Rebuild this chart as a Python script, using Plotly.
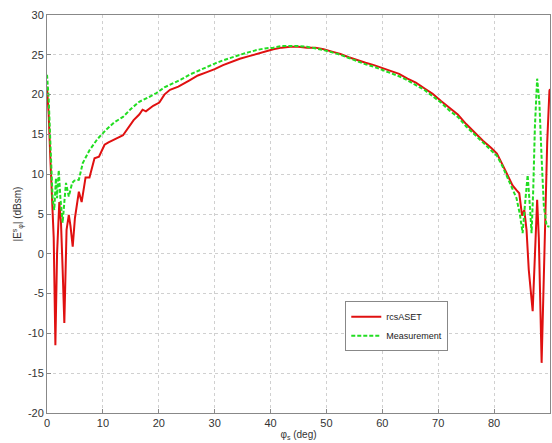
import plotly.graph_objects as go

# rcsASET (red, solid)
rcs_x = [0.0, 0.3, 0.6, 0.9, 1.2, 1.5, 1.8, 2.2, 2.5, 2.8, 3.1, 3.5, 3.9, 4.2, 4.6, 5.0, 5.7, 6.2, 6.9, 7.6,
         8.5, 9.3, 10.3, 11.0, 12.0, 13.0, 13.6, 14.5, 15.5, 16.5, 17.1, 17.7, 19.0, 20.1, 21.0, 22.0, 23.5,
         25.5, 27.0, 28.5, 30.0, 31.5, 33.0, 34.5, 36.0, 37.5, 39.0, 40.5, 42.0, 43.5, 45.0, 46.5, 48.0,
         49.5, 51.0, 52.5, 54.0, 55.5, 57.0, 58.5, 60.0, 61.5, 63.0, 64.5, 66.0, 67.5, 69.0, 70.5, 72.0,
         73.5, 75.0, 76.5, 78.0, 79.5, 80.5, 81.5, 82.2, 83.3, 84.0, 84.5, 85.0, 85.4, 85.8, 86.2, 86.9,
         87.3, 87.7, 88.0, 88.5, 89.0, 89.5, 89.9, 90.0]
rcs_y = [21.0, 17.5, 12.0, 6.0, 2.0, -11.5, 0.0, 6.5, 4.0, -2.0, -8.7, 3.0, 4.9, 3.5, 0.9, 4.5, 7.8, 6.5, 9.6, 9.6,
         12.0, 12.2, 13.7, 14.0, 14.4, 14.7, 14.9, 15.8, 16.8, 17.5, 18.1, 17.9, 18.6, 19.0, 20.0, 20.6, 21.0,
         21.8, 22.4, 22.8, 23.2, 23.7, 24.1, 24.5, 24.8, 25.1, 25.4, 25.7, 25.9, 26.0, 26.0, 25.9, 25.9,
         25.7, 25.4, 25.1, 24.7, 24.3, 24.0, 23.7, 23.3, 22.9, 22.6, 22.0, 21.5, 20.8, 20.1, 19.2, 18.3,
         17.5, 16.3, 15.2, 14.2, 13.3, 12.6, 11.2, 10.1, 8.6, 8.0, 7.6, 4.8, 5.5, 3.0, -2.0, -7.2,
         0.0, 6.8, 2.0, -13.7, 0.0, 14.0, 20.5, 20.7]

# Measurement (green, dashed)
meas_x = [0.0, 0.3, 0.6, 1.0, 1.3, 1.6, 1.8, 2.1, 2.4, 2.8, 3.1, 3.4, 3.9, 4.5, 4.9, 5.7, 6.4, 7.0, 7.6, 9.0,
          10.6, 12.0, 13.6, 15.0, 16.5, 18.0, 19.6, 21.0, 22.6, 24.0, 25.5, 27.0, 28.5, 30.0, 31.5, 33.0,
          34.5, 36.0, 37.5, 39.0, 40.5, 42.0, 43.5, 45.0, 46.5, 48.0, 49.5, 51.0, 52.5, 54.0, 55.5, 57.0,
          58.5, 60.0, 61.5, 63.0, 64.5, 66.0, 67.5, 69.0, 70.5, 72.0, 73.5, 75.0, 76.5, 78.0, 79.5, 80.5,
          81.5, 82.2, 83.3, 84.0, 84.6, 85.1, 85.5, 86.0, 86.4, 86.7, 87.0, 87.3, 87.7, 88.1, 88.5, 88.9,
          89.4, 89.9]
meas_y = [22.5, 19.5, 14.0, 7.0, 5.5, 9.5, 7.0, 10.5, 7.0, 3.9, 6.5, 8.9, 7.2, 8.9, 9.2, 9.3, 11.4, 12.3, 13.0, 14.4,
          15.6, 16.5, 17.2, 18.2, 19.1, 19.6, 20.2, 20.9, 21.4, 21.9, 22.5, 23.0, 23.5, 23.9, 24.3, 24.7,
          25.0, 25.3, 25.6, 25.8, 25.9, 26.1, 26.1, 26.1, 26.0, 25.8, 25.6, 25.3, 25.0, 24.6, 24.2, 23.8,
          23.5, 23.1, 22.7, 22.3, 21.8, 21.2, 20.6, 19.8, 19.0, 18.0, 17.2, 16.0, 15.0, 13.9, 13.0, 12.3,
          11.0, 9.9, 8.2, 7.0, 5.0, 2.6, 6.0, 9.9, 6.0, 2.6, 8.0, 16.0, 22.0, 19.0, 12.0, 6.0,
          3.5, 3.4]

x_ticks = [0, 10, 20, 30, 40, 50, 60, 70, 80, 90]
y_ticks = [-20, -15, -10, -5, 0, 5, 10, 15, 20, 25, 30]

fig = go.Figure()
fig.add_trace(go.Scatter(x=rcs_x, y=rcs_y, mode="lines", name="rcsASET",
                         line=dict(color="#e01010", width=2)))
fig.add_trace(go.Scatter(x=meas_x, y=meas_y, mode="lines", name="Measurement",
                         line=dict(color="#22dd22", width=2, dash="4px,2px")))

axis_common = dict(showline=True, linecolor="#888888", linewidth=1, mirror=True,
                   showgrid=True, gridcolor="#d0d0d0", griddash="dot", gridwidth=1,
                   ticks="inside", ticklen=4, tickcolor="#888888", zeroline=False,
                   tickfont=dict(family="Liberation Sans, Arial", size=11, color="#333333"))

fig.update_xaxes(range=[0, 90], tickvals=x_ticks, ticktext=[str(v) for v in x_ticks],
                 title=dict(text="φ<sub>s</sub> (deg)", standoff=2,
                            font=dict(family="Liberation Sans, Arial", size=10, color="#333333")),
                 **axis_common)
fig.update_yaxes(range=[-20, 30], tickvals=y_ticks, ticktext=[str(v) for v in y_ticks],
                 title=dict(text="|E<sup>s</sup><sub>φ</sub>| (dBsm)", standoff=4,
                            font=dict(family="Liberation Sans, Arial", size=10, color="#333333")),
                 **axis_common)

fig.update_layout(
    width=552, height=443,
    margin=dict(l=47, r=2, t=15, b=30),
    paper_bgcolor="white", plot_bgcolor="white",
    showlegend=True,
    legend=dict(x=0.593, y=0.281, xanchor="left", yanchor="top",
                bgcolor="white", bordercolor="#888888", borderwidth=1,
                font=dict(family="Liberation Sans, Arial", size=9, color="#222222"),
                tracegroupgap=0, itemwidth=30),
)

fig.write_html("out.html")
